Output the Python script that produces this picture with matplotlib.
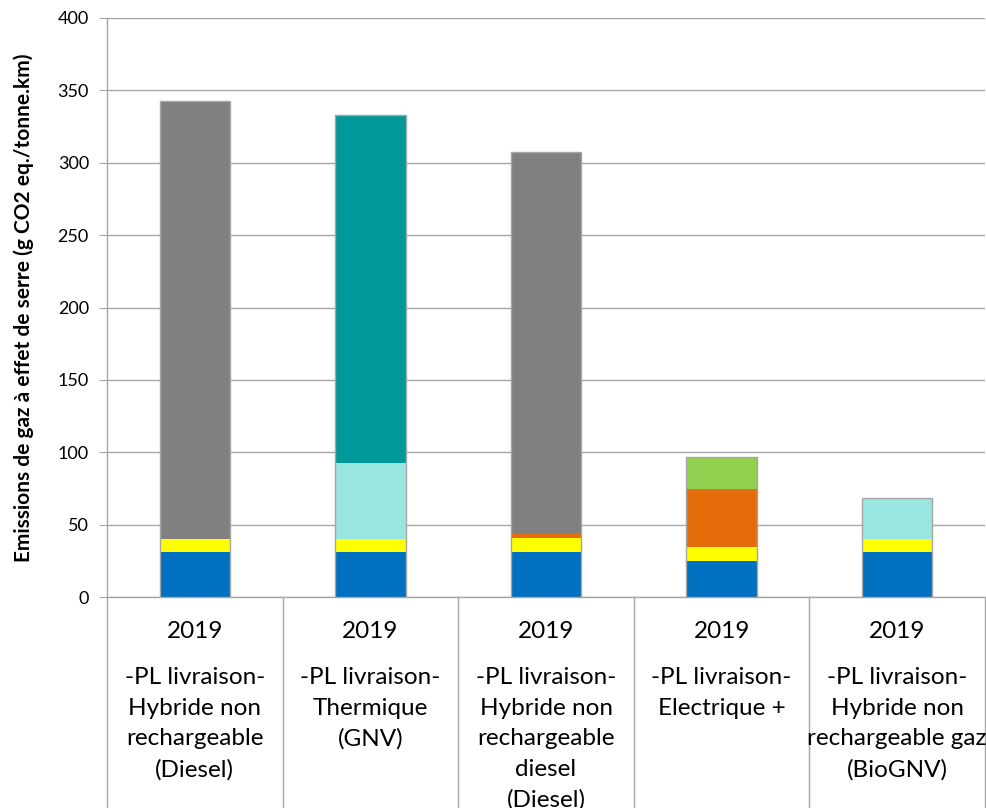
import matplotlib
matplotlib.use("Agg")
import matplotlib.pyplot as plt
import numpy as np

# Emission components per vehicle (g CO2 eq./tonne.km), stacked bottom to top
years = ["2019", "2019", "2019", "2019", "2019"]
vehicles = [
    "-PL livraison-\nHybride non\nrechargeable\n(Diesel)",
    "-PL livraison-\nThermique\n(GNV)",
    "-PL livraison-\nHybride non\nrechargeable\ndiesel\n(Diesel)",
    "-PL livraison-\nElectrique +",
    "-PL livraison-\nHybride non\nrechargeable gaz\n(BioGNV)",
]
vehicule_fabrication = [31.0, 31.3, 31.0, 25.0, 31.0]
batterie = [9.0, 9.0, 9.5, 9.3, 9.2]
electricite = [0.0, 0.0, 3.0, 40.0, 0.0]
gaz_amont = [0.0, 52.5, 0.0, 0.0, 28.2]
diesel = [303.0, 0.0, 264.0, 0.0, 0.0]
gnv = [0.0, 240.5, 0.0, 0.0, 0.0]
autres = [0.0, 0.0, 0.0, 22.5, 0.0]

series = [
    (vehicule_fabrication, "#0070C0"),
    (batterie, "#FFFF00"),
    (electricite, "#E46C0A"),
    (gaz_amont, "#99E6E0"),
    (diesel, "#808080"),
    (gnv, "#009999"),
    (autres, "#92D050"),
]

FONT = "Lato"
fig = plt.figure(figsize=(9.87, 8.08), dpi=100)
W, H = 987, 808
left, right, top, bottom = 107, 985, 18, 597
ax = fig.add_axes([left / W, 1 - bottom / H, (right - left) / W, (bottom - top) / H])

x = np.arange(len(vehicles))
width = 0.4
base = np.zeros(len(vehicles))
for values, color in series:
    v = np.array(values)
    ax.bar(x, v, width, bottom=base, color=color, edgecolor="none", zorder=3)
    base += v
# thin outline around each stacked column
ax.bar(x, base, width, fill=False, edgecolor="#a6a6a6", linewidth=1.0, zorder=4)

ax.set_xlim(-0.5, len(vehicles) - 0.5)
ax.set_ylim(0, 400)
ax.set_yticks(np.arange(0, 401, 50))
ax.yaxis.grid(True, color="#a6a6a6", linewidth=1.0, zorder=0)
ax.set_axisbelow(True)
ax.tick_params(axis="y", length=6, color="#a6a6a6", labelsize=13, pad=7,
               labelcolor="#000000")
for lbl in ax.get_yticklabels():
    lbl.set_fontfamily(FONT)
ax.set_xticks([])
for side in ("top", "right"):
    ax.spines[side].set_visible(False)
for side in ("left", "bottom"):
    ax.spines[side].set_color("#a6a6a6")
    ax.spines[side].set_linewidth(1.0)

ax.set_ylabel("Emissions de gaz à effet de serre (g CO2 eq./tonne.km)",
              fontsize=15, fontweight="bold", family=FONT, labelpad=17)

# category separators extending below the axis
axis_h = bottom - top
for xb in np.arange(-0.5, len(vehicles), 1.0):
    ax.axvline(xb, ymin=-(H - bottom) / axis_h, ymax=0, color="#a6a6a6",
               linewidth=1.0, clip_on=False)

for i, (yr, name) in enumerate(zip(years, vehicles)):
    ax.annotate(yr, xy=(i, 0), xycoords=("data", "axes fraction"),
                xytext=(0, -(631 - bottom)), textcoords="offset pixels",
                ha="center", va="center", fontsize=17.5, family=FONT)
    ax.annotate(name, xy=(i, 0), xycoords=("data", "axes fraction"),
                xytext=(0, -(667 - bottom)), textcoords="offset pixels",
                ha="center", va="top", fontsize=17.5, family=FONT,
                linespacing=1.56)

fig.savefig("out.png", dpi=100)
